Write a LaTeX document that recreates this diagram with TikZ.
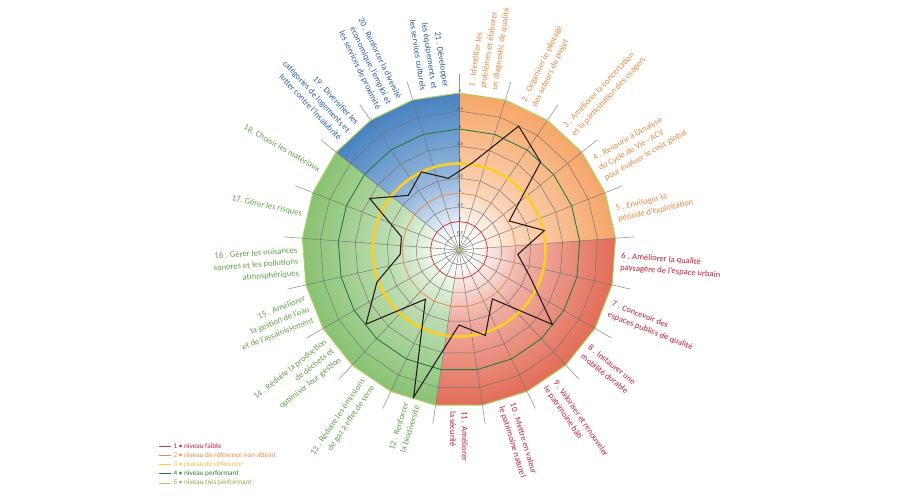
\documentclass[tikz,border=0pt]{standalone}
\usepackage{fontspec}
\setmainfont{Carlito}
\definecolor{orF}{RGB}{246,166,104}
\definecolor{rdF}{RGB}{226,108,86}
\definecolor{grF}{RGB}{136,194,114}
\definecolor{blF}{RGB}{70,130,192}
\colorlet{orM}{orF!55!white}
\colorlet{rdM}{rdF!55!white}
\colorlet{grM}{grF!55!white}
\colorlet{blM}{blF!55!white}
\definecolor{orT}{RGB}{228,138,62}
\definecolor{rdT}{RGB}{186,36,58}
\definecolor{grT}{RGB}{98,162,76}
\definecolor{blT}{RGB}{42,94,160}
\definecolor{ringR}{RGB}{204,60,66}
\definecolor{ringO}{RGB}{228,140,84}
\definecolor{ringY}{RGB}{250,206,40}
\definecolor{ringG}{RGB}{40,122,66}
\definecolor{ringL}{RGB}{176,208,100}
\definecolor{gridc}{RGB}{115,115,115}
\definecolor{spkO}{RGB}{150,150,150}
\definecolor{dataC}{RGB}{40,30,30}
\pgfdeclareradialshading{shOr}{\pgfpointorigin}{color(0bp)=(white); color(2bp)=(white); color(11bp)=(orM); color(25bp)=(orF); color(50bp)=(orF)}
\pgfdeclareradialshading{shRd}{\pgfpointorigin}{color(0bp)=(white); color(2bp)=(white); color(11bp)=(rdM); color(25bp)=(rdF); color(50bp)=(rdF)}
\pgfdeclareradialshading{shGr}{\pgfpointorigin}{color(0bp)=(white); color(2bp)=(white); color(11bp)=(grM); color(25bp)=(grF); color(50bp)=(grF)}
\pgfdeclareradialshading{shBl}{\pgfpointorigin}{color(0bp)=(white); color(2bp)=(white); color(11bp)=(blM); color(25bp)=(blF); color(50bp)=(blF)}
\newcommand{\lblfont}{\fontsize{8.6}{11.6}\selectfont}
\tikzset{
  lblR/.style={anchor=west,align=left,inner sep=0pt,font=\lblfont},
  lblL/.style={anchor=east,align=right,inner sep=0pt,font=\lblfont},
  gridring/.style={draw=gridc,line width=0.45pt},
  spoke/.style={draw=gridc,line width=0.45pt},
  spokeout/.style={draw=spkO,line width=0.6pt},
  dataline/.style={draw=dataC,line width=1.1pt,line join=miter},
  tick/.style={font=\fontsize{4.6}{5}\selectfont,text=black!75,inner sep=0pt},
  legtext/.style={font=\fontsize{7.2}{8}\selectfont,anchor=west,inner sep=0pt},
  legline/.style={line width=0.9pt}
}
\begin{document}
\begin{tikzpicture}[x=1pt,y=1pt]
\useasboundingbox (0,0) rectangle (900,500);
\fill[white] (0,0) rectangle (900,500);
\begin{scope}[shift={(459,250)}]
\def\R{157}
\def\st{17.142857}
% sectors
\foreach \a/\b/\sh in {0/5/shOr,5/11/shRd,11/18/shGr,18/21/shBl}{
  \begin{scope}
    \clip (0,0) \foreach \k in {\a,...,\b}{ -- ({90-\k*\st}:\R)} -- cycle;
    \shade[shading=\sh] (0,0) circle (\R);
  \end{scope}
}
% grid rings
\foreach \r in {14.5,43,72,104,139}{
  \draw[gridring] (90:\r) \foreach \k in {1,...,20}{ -- ({90-\k*\st}:\r)} -- cycle;
}
% spokes
\foreach \k in {0,...,20}{
  \draw[spoke] (0,0) -- ({90-\k*\st}:\R);
  \draw[spokeout] ({90-\k*\st}:\R) -- ({90-\k*\st}:176);
}
% coloured rings
\draw[draw=ringR,line width=0.8pt] (90:28.5) \foreach \k in {1,...,20}{ -- ({90-\k*\st}:28.5)} -- cycle;
\draw[draw=ringO,line width=0.8pt] (90:57) \foreach \k in {1,...,20}{ -- ({90-\k*\st}:57)} -- cycle;
\draw[draw=ringY,line width=2.6pt] (0,0) circle (86.5);
\draw[draw=ringG,line width=0.9pt] (90:121) \foreach \k in {1,...,20}{ -- ({90-\k*\st}:121)} -- cycle;
\draw[draw=ringL,line width=1pt] (90:\R) \foreach \k in {1,...,20}{ -- ({90-\k*\st}:\R)} -- cycle;
% data
\foreach \k/\r in {1/88,2/137.5,3/120,4/58,5/87.6,6/59,7/77,8/119.5,9/59.2,10/89.4,11/75,12/154,13/59.5,14/119,15/88.2,16/59,17/59,18/103,19/74.5,20/86.7,21/72.5}{
  \coordinate (d\k) at ({90-(\k-0.5)*\st}:\r);
}
\draw[dataline] (d1) \foreach \k in {2,...,21}{ -- (d\k)} -- cycle;
% tick labels
\foreach \r/\t in {14.5/0{,}5,28.5/1,43/1{,}5,57/2,72/2{,}5,86.5/3,104/3{,}5,121/4,139/4{,}5,157/5}{
  \node[tick] at (1,\r+2) {\t};
}
\fill[fill={rgb,255:red,196;green,200;blue,96}] (0,0) circle (2);
% labels
\node[lblR,text=orT,rotate=81.4286] (L1) at (81.4286:163) {1 . Identifier les\\problèmes et élaborer\\un diagnostic de qualité};
\node[lblR,text=orT,rotate=64.2857] (L2) at (64.2857:162) {2 . Organiser le pilotage\\des acteurs du projet};
\node[lblR,text=orT,rotate=47.1429] (L3) at (47.1429:162) {3 . Améliorer la concertation\\et la participation des usagers};
\node[lblR,text=orT,rotate=30] (L4) at (30:162) {4 . Recourir à l'Analyse\\du Cycle de Vie - ACV\\pour évaluer le coût global};
\node[lblR,text=orT,rotate=12.8571] (L5) at (12.8571:162) {5 . Envisager la\\période d'exploitation};
\node[lblR,text=rdT,rotate=-4.2857] (L6) at (-4.2857:162) {6 . Améliorer la qualité\\paysagère de l'espace urbain};
\node[lblR,text=rdT,rotate=-21.4286] (L7) at (-21.4286:162) {7 . Concevoir des\\espaces publics de qualité};
\node[lblR,text=rdT,rotate=-38.5714] (L8) at (-38.5714:162) {8 . Instaurer une\\mobilité durable};
\node[lblR,text=rdT,rotate=-55.7143] (L9) at (-55.7143:162) {9 . Valoriser et renouveler\\le patrimoine bâti};
\node[lblR,text=rdT,rotate=-72.8571] (L10) at (-72.8571:162) {10 . Mettre en valeur\\le patrimoine naturel};
\node[lblR,text=rdT,rotate=-90] (L11) at (-90:161) {11 . Améliorer\\la sécurité};
\node[lblL,text=grT,rotate=72.8571] (L12) at (-107.1429:161) {12 . Renforcer\\la biodiversité};
\node[lblL,text=grT,rotate=55.7143] (L13) at (-124.2857:161) {13 . Réduire les émissions\\de gaz à effet de serre};
\node[lblL,text=grT,rotate=38.5714] (L14) at (-141.4286:161) {14 . Réduire la production\\de déchets et\\optimiser leur gestion};
\node[lblL,text=grT,rotate=21.4286] (L15) at (-158.5714:161) {15 . Améliorer\\la gestion de l'eau\\et de l'assainissement};
\node[lblL,text=grT,rotate=4.2857] (L16) at (-175.7143:161) {16 . Gérer les nuisances\\sonores et les pollutions\\atmosphériques};
\node[lblL,text=grT,rotate=-12.8571] (L17) at (-192.8571:161) {17. Gérer les risques};
\node[lblL,text=grT,rotate=-30] (L18) at (-210:161) {18. Choisir les matériaux};
\node[lblL,text=blT,rotate=-47.1429] (L19) at (-227.1429:162) {19 . Diversifier les\\catégories de logements et\\lutter contre l'insalubrité};
\node[lblL,text=blT,rotate=-64.2857] (L20) at (-244.2857:162) {20 . Renforcer la diversité\\économique, l'emploi et\\les services de proximité};
\node[lblL,text=blT,rotate=-81.4286] (L21) at (-261.4286:163) {21 . Développer\\les équipements et\\les services culturels};
\end{scope}
% legend
\draw[legline,draw=ringR] (159,53.5) -- (171,53.5);
\node[legtext,text=rdT] (g1) at (173.5,53.5) {1 • niveau faible};
\draw[legline,draw=ringO] (159,44.5) -- (171,44.5);
\node[legtext,text=orT] (g2) at (173.5,44.5) {2 • niveau de référence non atteint};
\draw[legline,draw=ringY] (159,35.5) -- (171,35.5);
\node[legtext,text={rgb,255:red,236;green,190;blue,60}] (g3) at (173.5,35.5) {3 • niveau de référence};
\draw[legline,draw=ringG] (159,26.2) -- (171,26.2);
\node[legtext,text=ringG] (g4) at (173.5,26.2) {4 • niveau performant};
\draw[legline,draw=ringL] (159,17) -- (171,17);
\node[legtext,text={rgb,255:red,130;green,180;blue,70}] (g5) at (173.5,17) {5 • niveau très performant};
\end{tikzpicture}
\end{document}
